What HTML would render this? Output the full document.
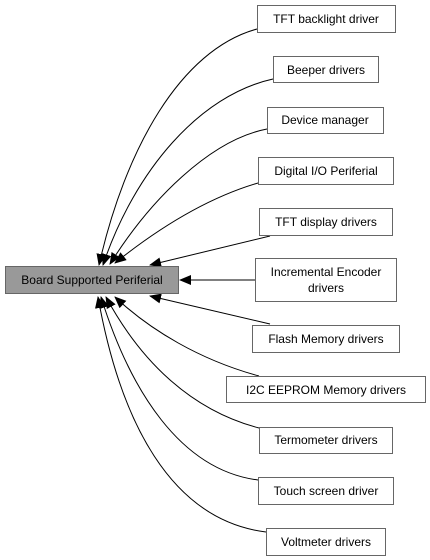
<!DOCTYPE html>
<html><head><style>
body{margin:0;background:#fff;width:430px;height:560px;overflow:hidden}
svg{display:block}
text{font-family:"Liberation Sans",sans-serif;font-size:12px;fill:#000}
</style></head><body>
<svg width="430" height="560" xmlns="http://www.w3.org/2000/svg">
<defs><marker id="a" markerWidth="12" markerHeight="10" refX="11" refY="5" orient="auto" markerUnits="userSpaceOnUse"><path d="M0,0 L12,5 L0,10 Z" fill="#000"/></marker></defs>
<g fill="none" stroke="#000" stroke-width="1" marker-end="url(#a)">
<path d="M257,29 C180,50 125,150 99,265"/>
<path d="M273,79 C200,95 135,170 103,265"/>
<path d="M267,129 C210,140 150,200 110,264"/>
<path d="M258,183 C200,200 150,235 115,263"/>
<path d="M270,236 L150,265"/>
<path d="M255,280 L180,280"/>
<path d="M270,324 L150,296"/>
<path d="M259,376 C200,360 150,330 115,297"/>
<path d="M259,428 C190,410 140,360 106,297"/>
<path d="M258,480 C180,470 130,390 101,297"/>
<path d="M266,532 C170,520 120,420 98,297"/>
</g>
<rect x="5.5" y="266.5" width="173" height="27" fill="#999" stroke="#666"/>
<text x="92" y="284" text-anchor="middle">Board Supported Periferial</text>
<g fill="#fff" stroke="#666">
<rect x="257.5" y="5.5" width="138" height="27"/>
<rect x="273.5" y="56.5" width="105" height="26"/>
<rect x="267.5" y="107.5" width="116" height="26"/>
<rect x="258.5" y="157.5" width="135" height="27"/>
<rect x="259.5" y="208.5" width="133" height="27"/>
<rect x="255.5" y="258.5" width="141" height="43"/>
<rect x="252.5" y="325.5" width="147" height="27"/>
<rect x="226.5" y="376.5" width="199" height="26"/>
<rect x="259.5" y="427.5" width="133" height="26"/>
<rect x="258.5" y="477.5" width="135" height="27"/>
<rect x="266.5" y="528.5" width="119" height="27"/>
</g>
<g text-anchor="middle">
<text x="326" y="23">TFT backlight driver</text>
<text x="326" y="74">Beeper drivers</text>
<text x="325" y="124">Device manager</text>
<text x="326" y="175">Digital I/O Periferial</text>
<text x="326" y="226">TFT display drivers</text>
<text x="326" y="276">Incremental Encoder</text>
<text x="326" y="292">drivers</text>
<text x="326" y="343">Flash Memory drivers</text>
<text x="326" y="394">I2C EEPROM Memory drivers</text>
<text x="326" y="444">Termometer drivers</text>
<text x="326" y="495">Touch screen driver</text>
<text x="326" y="546">Voltmeter drivers</text>
</g>
</svg>
</body></html>
